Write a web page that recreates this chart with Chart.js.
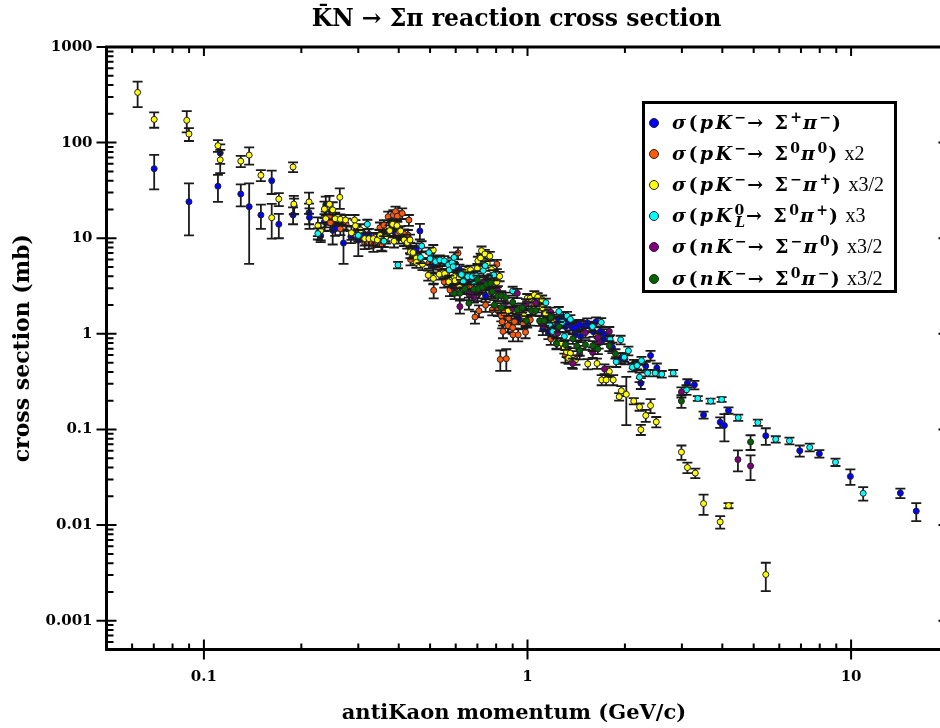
<!DOCTYPE html>
<html>
<head>
<meta charset="utf-8">
<script src="https://cdn.jsdelivr.net/npm/chart.js@4/dist/chart.umd.min.js"></script>
<style>
html, body { margin: 0; padding: 0; background: #fff; }
#wrap { position: relative; width: 940px; height: 728px; overflow: hidden; }
#legendBox { position: absolute; left: 642px; top: 100.5px; width: 249px; height: 186px; border: 3px solid #000; background: #fff; font-family: "DejaVu Serif", serif; }
.row { position: absolute; left: 0; height: 31px; line-height: 31px; white-space: nowrap; }
.dot { position: absolute; left: 4px; top: 11px; width: 8px; height: 8px; border: 1px solid #222; border-radius: 50%; }
.txt { position: absolute; left: 27px; top: 0; font-size: 19px; font-weight: bold; letter-spacing: 2.4px; }
.txt em { font-style: italic; }
.txt sup, .txt sub { font-size: 14px; line-height: 0; letter-spacing: 1px; }
.txt sub { margin-left: -10px; }
.txt i { font-family: "Liberation Serif", serif; font-style: normal; font-weight: normal; font-size: 20px; letter-spacing: 0; margin-left: -4px; }
</style>
</head>
<body>
<div id="wrap">
<canvas id="grafico" width="960" height="728"></canvas>
<div id="legendBox"></div>
</div>
<script>
// sigma(pK- -> S+ pi-)
blueX = [0.0702,0.0899,0.1123,0.1105,0.13,0.138,0.15,0.162,0.1704,0.1886,0.19,0.2113,0.212,0.2296,0.2358,0.238,0.25,0.2545,0.27,0.264,0.3,0.2845,0.3236,0.313,0.348,0.364,0.378,0.387,0.4,0.465,0.4335,0.4535,0.5116,0.6165,0.648,0.742,0.94,0.998,1.125,1.115,1.16,1.205,1.25,1.29,1.31,1.357,1.42,1.49,1.565,1.63,1.46,1.407,1.68,1.72,1.83,1.94,2.0,2.13,2.18,2.32,2.4,2.51,2.24,3.12,3.28,3.5,4.18,3.94,4.06,5.45,6.94,7.98,9.95,14.2,15.9,1.22,1.33,1.38,1.45,1.53,1.6,1.72];
blueY = [53.4,24.1,78,35,29,21.4,17.5,40,14,17.5,22,18.5,16.5,10.6,14.9,22.3,12.1,12.6,8.9,14,9.5,10.4,11,11,10.8,10.8,14.6,11.7,10.1,11.9,8,7.85,5.1,4.7,3.67,2.5,1.46,1.34,1.58,1.12,1.03,1.4,1.4,1.49,1.19,1.24,1.19,1.21,1.19,1.34,0.94,0.976,1.06,0.88,0.72,0.557,0.55,0.485,0.474,0.46,0.594,0.44,0.305,0.305,0.293,0.142,0.158,0.119,0.11,0.086,0.06,0.0558,0.0323,0.0216,0.014,1.25,1.32,1.15,1.25,1.3,1.05,1.0];
blueE = [21,13.4,18,11,7.5,16,5,11,4,3.5,4,4.5,4,1.5,3,5,3.5,2,3.5,2,3,1.5,1.5,1.5,1.5,1.5,2,1.5,1.3,2.2,1,1,0.7,0.6,0.5,0.35,0.2,0.18,0.2,0.15,0.15,0.18,0.18,0.2,0.15,0.15,0.15,0.15,0.15,0.15,0.12,0.12,0.14,0.1,0.09,0.07,0.07,0.05,0.05,0.05,0.07,0.05,0.04,0.03,0.03,0.012,0.012,0.015,0.035,0.017,0.008,0.005,0.006,0.0025,0.003,0.15,0.15,0.14,0.15,0.15,0.12,0.12];

// sigma(pK- -> S0 pi0) x2
orangeX = [0.2443,0.246,0.275,0.294,0.314,0.334,0.3535,0.35,0.264,0.3236,0.371,0.385,0.391,0.396,0.41,0.43,0.36,0.398,0.427,0.416,0.356,0.435,0.496,0.535,0.61,0.513,0.576,0.553,0.57,0.6,0.612,0.63,0.667,0.648,0.7,0.804,0.769,0.742,0.708,0.688,0.778,0.81,0.83,0.845,0.875,0.835,0.912,0.87,0.9,0.84,0.902,0.936,0.986,0.97,1.02,1.065,0.824,0.86,1.18,1.31];
orangeY = [16.8,14.5,14,11.7,8.9,8.4,8.6,12.9,12.6,9,16.8,17.5,19,17,18.2,15.5,13.7,11.3,10.8,11,8.5,6,5.5,4.85,7,2.85,2.88,3.5,3.5,4.1,4.2,3.6,3.1,3,2.55,5.35,3.4,2,1.74,1.5,1.78,1.75,1.55,1.65,1.46,1.34,1.34,1.22,1.16,1.06,0.976,0.976,1.04,1.29,1.4,2.06,0.54,0.55,0.887,0.59];
orangeE = [3,2.5,2,1.7,1.2,1.2,1.2,1.7,1.8,1.2,2.2,2.2,2.4,2.2,2.3,2,1.8,1.5,1.4,1.4,1.2,0.8,0.7,0.6,1,0.5,0.4,0.45,0.45,0.5,0.5,0.45,0.4,0.4,0.35,0.6,0.4,0.3,0.25,0.22,0.22,0.22,0.2,0.2,0.2,0.2,0.2,0.18,0.16,0.16,0.14,0.14,0.14,0.16,0.18,0.25,0.13,0.14,0.12,0.09];

// sigma(pK- -> S- pi+) x3/2
yellowX = [0.0624,0.0702,0.0885,0.0899,0.1105,0.1123,0.13,0.138,0.15,0.1886,0.1704,0.162,0.1896,0.2113,0.2358,0.2443,0.25,0.263,0.225,0.2296,0.238,0.2545,0.264,0.274,0.292,0.294,0.305,0.2857,0.314,0.3236,0.334,0.3436,0.35,0.365,0.375,0.383,0.395,0.387,0.4027,0.4056,0.364,0.4155,0.425,0.4335,0.4345,0.443,0.4535,0.4535,0.4735,0.5116,0.4935,0.5116,0.5337,0.5546,0.571,0.593,0.597,0.6165,0.615,0.645,0.667,0.7,0.7025,0.721,0.716,0.7385,0.765,0.751,0.774,0.7965,0.804,0.82,0.872,0.918,0.974,0.998,1.02,1.05,1.075,1.11,0.998,1.045,1.11,1.137,1.2,1.197,1.23,1.27,1.3,1.32,1.357,1.34,1.374,1.407,1.535,1.64,1.79,1.695,1.75,1.84,1.95,2.02,1.92,2.13,2.22,2.4,2.32,2.5,2.24,2.99,3.12,3.3,3.5,4.18,3.94,5.45];
yellowY = [335,175,171,123,93,66,64,74,45.5,55.6,25.7,16.4,22.8,24,20.2,22.7,19.8,26.8,13.5,12,16,16,15.8,15.5,15.5,13.5,12.2,11.4,9.9,9.9,9.9,9.6,10.7,10.2,12,14,13.6,9.3,11.7,11.9,10.2,9.6,9,9.6,7.2,7.1,6.2,5.6,5.35,7.5,4.1,3.8,4.2,4.27,3.5,3.97,3.6,3.07,3.8,4.6,4.66,4.85,5.8,7.4,6.2,6.85,6.5,5.5,4.7,3.5,3.46,4,1.74,1.65,1.55,2.36,2.36,2.55,2.42,2.27,2,1.93,1.88,1.62,1.35,1.06,0.8,0.8,0.71,0.65,0.63,0.557,0.5,0.535,0.485,0.49,0.404,0.33,0.33,0.33,0.254,0.233,0.22,0.198,0.172,0.178,0.14,0.12,0.0995,0.058,0.04,0.035,0.0168,0.016,0.0108,0.00304];
yellowE = [100,32,43,19,13,18,8.5,15,6,6.5,4,6.5,5,6,4,5,4,6.5,3,2.5,3,2.5,2,2,2,2,1.8,1.8,1.5,1.5,1.5,1.5,1.5,1.4,1.6,1.8,1.8,1.3,1.5,1.5,1.3,1.3,1.2,1.3,1,1,0.8,0.7,0.7,1,0.5,0.5,0.5,0.5,0.4,0.45,0.4,0.35,0.45,0.5,0.5,0.55,0.6,0.8,0.7,0.7,0.7,0.6,0.5,0.4,0.4,0.45,0.2,0.2,0.2,0.25,0.25,0.25,0.25,0.25,0.2,0.2,0.2,0.18,0.15,0.12,0.1,0.1,0.09,0.08,0.08,0.07,0.06,0.06,0.06,0.06,0.05,0.04,0.04,0.04,0.03,0.122,0.02,0.015,0.015,0.03,0.02,0.015,0.012,0.01,0.005,0.004,0.004,0.001,0.0016,0.001];

// sigma(pK0L -> S0 pi+) x3
cyanX = [0.225,0.3,0.32,0.36,0.398,0.471,0.467,0.496,0.5,0.52,0.536,0.553,0.57,0.573,0.585,0.593,0.589,0.625,0.633,0.654,0.675,0.695,0.685,0.787,0.73,0.74,0.9,1.14,1.25,1.17,1.28,1.197,1.3,1.325,1.357,1.587,1.69,1.8,1.94,2.05,1.88,1.99,2.25,2.11,2.18,2.35,2.48,2.6,2.82,2.22,3.1,3.36,3.68,3.98,4.48,5.15,5.85,6.45,7.45,8.95,10.9];
cyanY = [11.2,10.7,14,9.3,5.25,8.3,6.3,7.08,6.1,5.7,5.93,5.8,5.26,4.66,5.55,6.3,5.04,4.17,3.52,3.97,3.97,4.04,3.3,4.13,4.6,5.17,2.81,2.12,1.71,1.26,1.32,1.06,0.94,1.54,1.42,1.19,1.32,0.88,0.866,0.665,0.51,0.57,0.525,0.448,0.466,0.389,0.389,0.379,0.389,0.353,0.26,0.211,0.198,0.206,0.133,0.118,0.079,0.076,0.065,0.0455,0.0215];
cyanE = [1.5,1.5,1.6,1.2,0.4,1,0.8,0.9,0.8,0.7,0.7,0.7,0.6,0.6,0.7,0.8,0.6,0.5,0.45,0.45,0.45,0.5,0.4,0.5,0.55,0.6,0.3,0.22,0.2,0.14,0.15,0.12,0.1,0.16,0.15,0.12,0.14,0.09,0.09,0.07,0.06,0.06,0.05,0.045,0.05,0.03,0.03,0.03,0.03,0.04,0.03,0.012,0.012,0.012,0.01,0.009,0.006,0.006,0.006,0.004,0.0035];

// sigma(nK- -> S- pi0) x3/2
purpleX = [0.595,0.618,0.659,0.683,0.708,0.733,0.754,0.774,0.81,0.93,0.855,0.9,0.99,1.06,1.18,1.12,1.24,1.38,1.45,1.51,1.59,1.65,1.66,1.73,1.79,2.99,4.47,4.89];
purpleY = [2.93,1.93,2.6,2.42,2.7,3.5,3.6,2.7,2.81,2.66,2.14,1.85,2.06,2.09,1.68,1.22,1.02,0.49,0.62,1.03,0.64,0.915,0.8,0.43,1.06,0.246,0.0485,0.0415];
purpleE = [0.4,0.3,0.35,0.3,0.35,0.4,0.45,0.35,0.35,0.3,0.25,0.22,0.25,0.25,0.2,0.15,0.12,0.06,0.08,0.12,0.08,0.1,0.1,0.05,0.12,0.03,0.012,0.012];

// sigma(nK- -> S0 pi-) x3/2
greenX = [0.595,0.618,0.64,0.659,0.683,0.705,0.7,0.726,0.746,0.769,0.778,0.79,0.81,0.83,0.855,0.9,0.83,0.93,0.963,0.993,1.03,1.06,1.09,1.125,1.18,1.25,1.23,1.31,1.38,1.42,1.45,1.51,1.59,1.65,1.79,1.87,2.99,4.89];
greenY = [2.66,2.66,2.97,2.09,2.93,2.97,3.67,3.07,3.3,3.39,2.76,2,2.5,2.5,2.4,2.14,1.88,1.78,1.88,1.37,1.74,1.75,1.37,1.37,1.49,1.19,0.79,0.77,0.887,0.75,0.67,0.77,0.75,0.695,0.75,0.62,0.198,0.074];
greenE = [0.35,0.35,0.35,0.3,0.35,0.35,0.4,0.35,0.4,0.4,0.3,0.25,0.3,0.3,0.3,0.25,0.22,0.2,0.2,0.16,0.2,0.2,0.16,0.16,0.18,0.14,0.1,0.09,0.1,0.09,0.08,0.09,0.09,0.08,0.09,0.07,0.03,0.013];

xTicks = [0.1, 1, 10];
xTickLabels = ["0.1", "1", "10"];
yTicks = [1000, 100, 10, 1, 0.1, 0.01, 0.001];
yTickLabels = ["1000", "100", "10", "1", "0.1", "0.01", "0.001"];
minorSteps = [2, 3, 4, 5, 6, 7, 8, 9];

titulo = "K\u0304N \u2192 \u03A3\u03C0 reaction cross section";
tituloX = "antiKaon momentum (GeV/c)";
tituloY = "cross section (mb)";

series = [
    {x: blueX, y: blueY, e: blueE, color: "#0000ff", label: "<em>\u03C3</em>(<em>pK</em><sup>\u2212</sup>\u2192 \u03A3<sup>+</sup><em>\u03C0</em><sup>\u2212</sup>)"},
    {x: orangeX, y: orangeY, e: orangeE, color: "#ff5a0a", label: "<em>\u03C3</em>(<em>pK</em><sup>\u2212</sup>\u2192 \u03A3<sup>0</sup><em>\u03C0</em><sup>0</sup>) <i>x2</i>"},
    {x: yellowX, y: yellowY, e: yellowE, color: "#ffff00", label: "<em>\u03C3</em>(<em>pK</em><sup>\u2212</sup>\u2192 \u03A3<sup>\u2212</sup><em>\u03C0</em><sup>+</sup>) <i>x3/2</i>"},
    {x: cyanX, y: cyanY, e: cyanE, color: "#00ffff", label: "<em>\u03C3</em>(<em>pK</em><sup>0</sup><sub><em>L</em></sub>\u2192 \u03A3<sup>0</sup><em>\u03C0</em><sup>+</sup>) <i>x3</i>"},
    {x: purpleX, y: purpleY, e: purpleE, color: "#800080", label: "<em>\u03C3</em>(<em>nK</em><sup>\u2212</sup>\u2192 \u03A3<sup>\u2212</sup><em>\u03C0</em><sup>0</sup>) <i>x3/2</i>"},
    {x: greenX, y: greenY, e: greenE, color: "#006400", label: "<em>\u03C3</em>(<em>nK</em><sup>\u2212</sup>\u2192 \u03A3<sup>0</sup><em>\u03C0</em><sup>\u2212</sup>) <i>x3/2</i>"}
];

datasets = [];
for (i = 0; i < series.length; i++) {
    s = series[i];
    puntos = [];
    for (j = 0; j < s.x.length; j++) {
        puntos.push({x: s.x[j], y: s.y[j], e: s.e[j]});
    }
    datasets.push({
        label: s.label,
        data: puntos,
        backgroundColor: s.color,
        borderColor: "#222",
        borderWidth: 1,
        pointRadius: 3,
        showLine: false,
        order: series.length - i
    });
}

// error bars go right under the points of their own dataset
barrasError = {
    id: "barrasError",
    beforeDatasetDraw(chart, args) {
        ctx = chart.ctx;
        ejeX = chart.scales.x;
        ejeY = chart.scales.y;
        ctx.save();
        ctx.strokeStyle = "#1a1a1a";
        ctx.lineWidth = 1.8;
        ctx.beginPath();
        args.meta._dataset.data.forEach(function (p) {
            px = ejeX.getPixelForValue(p.x);
            arriba = ejeY.getPixelForValue(p.y + p.e);
            abajo = ejeY.getPixelForValue(p.y - p.e);
            ctx.moveTo(px, arriba);
            ctx.lineTo(px, abajo);
            ctx.moveTo(px - 5, arriba);
            ctx.lineTo(px + 5, arriba);
            ctx.moveTo(px - 5, abajo);
            ctx.lineTo(px + 5, abajo);
        });
        ctx.stroke();
        ctx.restore();
    }
};

// frame, inward minor ticks and crossing major ticks on all four sides
marcoEjes = {
    id: "marcoEjes",
    afterDatasetsDraw(chart) {
        ctx = chart.ctx;
        a = chart.chartArea;
        ejeX = chart.scales.x;
        ejeY = chart.scales.y;
        ctx.save();
        ctx.strokeStyle = "#000";
        ctx.lineWidth = 3;
        ctx.strokeRect(a.left, a.top, a.right - a.left, a.bottom - a.top);
        ctx.lineWidth = 2;
        ctx.beginPath();
        for (d = -2; d <= 1; d++) {
            minorSteps.forEach(function (m) {
                v = m * Math.pow(10, d);
                if (v <= ejeX.min || v >= ejeX.max) return;
                px = ejeX.getPixelForValue(v);
                ctx.moveTo(px, a.bottom); ctx.lineTo(px, a.bottom - 6);
                ctx.moveTo(px, a.top); ctx.lineTo(px, a.top + 6);
            });
        }
        for (d = -4; d <= 2; d++) {
            minorSteps.forEach(function (m) {
                v = m * Math.pow(10, d);
                if (v <= ejeY.min || v >= ejeY.max) return;
                py = ejeY.getPixelForValue(v);
                ctx.moveTo(a.left, py); ctx.lineTo(a.left + 7, py);
                ctx.moveTo(a.right, py); ctx.lineTo(a.right - 7, py);
            });
        }
        xTicks.forEach(function (v) {
            px = ejeX.getPixelForValue(v);
            ctx.moveTo(px, a.bottom + 10); ctx.lineTo(px, a.bottom - 10);
            ctx.moveTo(px, a.top); ctx.lineTo(px, a.top + 9);
        });
        yTicks.forEach(function (v) {
            py = ejeY.getPixelForValue(v);
            ctx.moveTo(a.left - 10, py); ctx.lineTo(a.left + 10, py);
            ctx.moveTo(a.right, py); ctx.lineTo(a.right - 10, py);
        });
        ctx.stroke();
        ctx.fillStyle = "#000";
        ctx.textAlign = "center";
        ctx.textBaseline = "middle";
        ctx.font = "bold 23.5px 'DejaVu Serif'";
        ctx.fillText(titulo, 516.5, 20);
        ctx.font = "bold 21px 'DejaVu Serif'";
        ctx.fillText(tituloX, 514, 714);
        ctx.restore();
    }
};

new Chart(document.getElementById("grafico"), {
    type: "scatter",
    data: {datasets: datasets},
    plugins: [barrasError, marcoEjes],
    options: {
        responsive: false,
        animation: false,
        layout: {padding: {top: 47, right: 11.5}},
        plugins: {legend: {display: false}, tooltip: {enabled: false}},
        scales: {
            x: {
                type: "logarithmic",
                min: 0.05,
                max: 20,
                afterBuildTicks(eje) {
                    eje.ticks = xTicks.map(function (v) { return {value: v}; });
                },
                afterFit(eje) { eje.height = 78.5; },
                grid: {display: false},
                border: {display: false},
                ticks: {
                    autoSkip: false,
                    maxRotation: 0,
                    padding: 11,
                    color: "#000",
                    font: {family: "DejaVu Serif", weight: "bold", size: 15},
                    callback(v) { return xTickLabels[xTicks.indexOf(v)]; }
                }
            },
            y: {
                type: "logarithmic",
                min: 0.0005,
                max: 1000,
                afterBuildTicks(eje) {
                    eje.ticks = yTicks.map(function (v) { return {value: v}; });
                },
                afterFit(eje) { eje.width = 106.5; },
                grid: {display: false},
                border: {display: false},
                title: {
                    display: true,
                    text: tituloY,
                    color: "#000",
                    padding: {top: 10, bottom: 0},
                    font: {family: "DejaVu Serif", weight: "bold", size: 22}
                },
                ticks: {
                    autoSkip: false,
                    padding: 6,
                    color: "#000",
                    font: {family: "DejaVu Serif", weight: "bold", size: 15},
                    callback(v) { return yTickLabels[yTicks.indexOf(v)]; }
                }
            }
        }
    }
});

// legend: the sub and superscripts need html
caja = document.getElementById("legendBox");
for (i = 0; i < series.length; i++) {
    fila = document.createElement("div");
    fila.className = "row";
    fila.style.top = (3 + i * 31.2) + "px";
    fila.innerHTML = '<span class="dot" style="background:' + series[i].color + '"></span><span class="txt">' + series[i].label + '</span>';
    caja.appendChild(fila);
}
</script>
</body>
</html>
